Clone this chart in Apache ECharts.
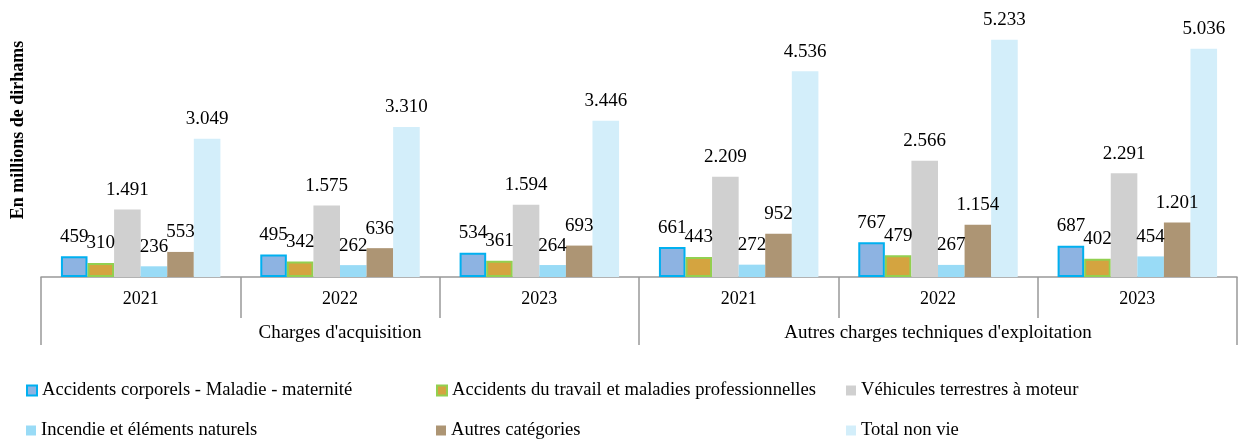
<!DOCTYPE html>
<html>
<head>
<meta charset="utf-8">
<script src="https://cdn.jsdelivr.net/npm/echarts@6/dist/echarts.min.js"></script>
<style>html,body{margin:0;padding:0;background:#fff}#c{width:1240px;height:439px}</style>
</head>
<body>
<div id="c"></div>
<script>
const years = ['2021','2022','2023','2021','2022','2023'];
const groups = ["Charges d'acquisition", "Autres charges techniques d'exploitation"];
const seriesNames = [
  'Accidents corporels - Maladie - maternité',
  'Accidents du travail et maladies professionnelles',
  'Véhicules terrestres à moteur',
  'Incendie et éléments naturels',
  'Autres catégories',
  'Total non vie'
];
const accidentsCorporels = [459, 495, 534, 661, 767, 687];
const accidentsTravail = [310, 342, 361, 443, 479, 402];
const vehicules = [1491, 1575, 1594, 2209, 2566, 2291];
const incendie = [236, 262, 264, 272, 267, 454];
const autres = [553, 636, 693, 952, 1154, 1201];
const totalNonVie = [3049, 3310, 3446, 4536, 5233, 5036];

const values = [accidentsCorporels, accidentsTravail, vehicules, incendie, autres, totalNonVie];
const styles = [
  {color:'#8DB3E2', borderColor:'#00B0F0', borderWidth:2},
  {color:'#D4A440', borderColor:'#92D050', borderWidth:2},
  {color:'#D0D0D0'},
  {color:'#99DBF6'},
  {color:'#AD9574'},
  {color:'#D3EEFA'}
];
const serif = '"Liberation Serif","Times New Roman",serif';
const fmt = v => String(v).replace(/\B(?=(\d{3})+(?!\d))/g, '.');

const chart = echarts.init(document.getElementById('c'));
const legendPos = [[21,376],[431,376],[841,376],[21,416],[431,416],[841,416]];
const legends = seriesNames.map((n,i)=>({
  orient:'horizontal', icon:'rect', itemWidth:10, itemHeight:10,
  left:legendPos[i][0], top:legendPos[i][1], padding:5,
  textStyle:{fontFamily:serif, fontSize:18.6, color:'#000'}, selectedMode:false,
  data:[n]
}));
chart.setOption({
  animation:false,
  grid:{left:41, right:3, top:5, bottom:162, outerBoundsMode:'none', containLabel:false},
  legend:legends,
  xAxis:[
    {type:'category', data:years, position:'bottom',
     axisLine:{show:true, lineStyle:{color:'#999', width:1.5}},
     axisTick:{show:true, length:41, interval:0, lineStyle:{color:'#999', width:1.5}},
     axisLabel:{margin:13, fontFamily:serif, fontSize:18, color:'#000', interval:0}},
    {type:'category', data:groups, position:'bottom',
     axisLine:{show:false},
     axisTick:{show:true, length:68, interval:0, lineStyle:{color:'#999', width:1.5}},
     axisLabel:{margin:47, fontFamily:serif, fontSize:19, color:'#000', interval:0}}
  ],
  yAxis:{type:'value', min:0, max:6000, interval:1000,
    name:'En millions de dirhams', nameLocation:'middle', nameGap:14,
    nameTextStyle:{fontFamily:serif, fontSize:18, fontWeight:'bold', color:'#000', padding:[0,0,0,22]},
    axisLine:{show:false}, axisTick:{show:false}, axisLabel:{show:false}, splitLine:{show:false}},
  series: seriesNames.map((n,i)=>({
    name:n, type:'bar', xAxisIndex:0, data:values[i],
    barGap:'0%', barCategoryGap:'20%',
    itemStyle:styles[i],
    label:{show:true, position:'top', distance:10, formatter:p=>fmt(p.value),
      fontFamily:serif, fontSize:19, color:'#000'}
  }))
});
</script>
</body>
</html>
